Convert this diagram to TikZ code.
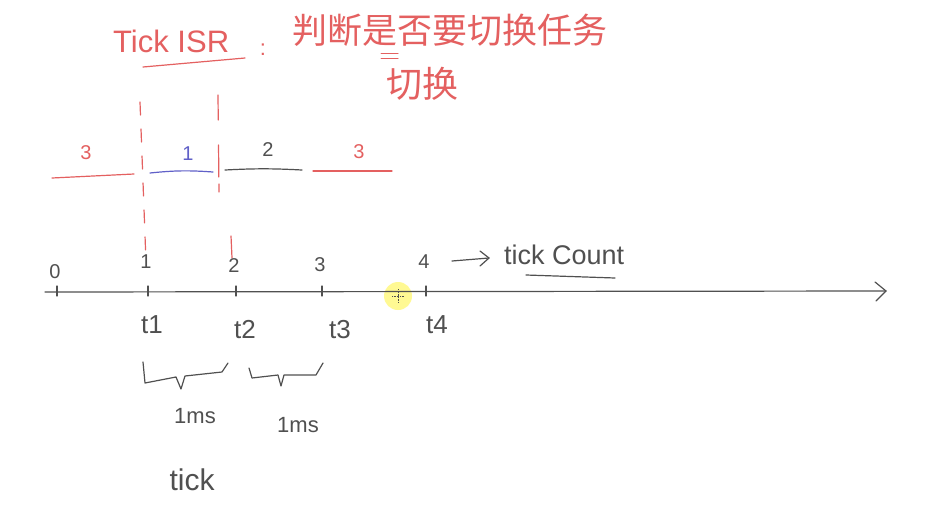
\documentclass[tikz,border=0pt]{standalone}
\usepackage{fontspec}
\setmainfont{Liberation Sans}
\newfontfamily\cjk{Noto Sans CJK SC}
\usetikzlibrary{arrows.meta}
\definecolor{hred}{RGB}{228,96,96}
\definecolor{hblue}{RGB}{96,96,200}
\definecolor{hgray}{RGB}{80,80,80}
\tikzset{
  pen/.style={line width=1.2pt, line cap=round, line join=round},
  redpen/.style={pen, draw=hred},
  graypen/.style={pen, draw=hgray},
  lbl/.style={inner sep=0pt, font=\fontsize{20}{22}\selectfont},
  redtxt/.style={text=hred},
  graytxt/.style={text=hgray},
}
\begin{document}
\begin{tikzpicture}[x=1pt,y=-1pt]
\useasboundingbox[fill=white] (0,0) rectangle (941,506);

% title
\node[lbl, redtxt, anchor=west, font=\fontsize{31}{33}\selectfont] (tisr) at (113,41) {Tick ISR};
\draw[redpen] (143,67) -- (245,58);
\node[lbl, redtxt, font=\fontsize{22}{24}\selectfont] (colon) at (263,50) {:};
\node[lbl, redtxt, anchor=west, font=\cjk\fontsize{35}{38}\selectfont] (judge) at (292,30) {判断是否要切换任务};
\draw[redpen, line width=1pt] (381,53) -- (398,53) (381,58) -- (398,58);
\node[lbl, redtxt, anchor=west, font=\cjk\fontsize{36}{38}\selectfont] (swap) at (386,84) {切换};

% dashed / red switch lines
\coordinate (d1t) at (140,102);
\coordinate (d1b) at (146,262);
\draw[redpen, dash pattern=on 13pt off 14pt] (d1t) -- (d1b);
\coordinate (d2t) at (218,95);
\coordinate (d2b) at (219,192);
\draw[redpen, dash pattern=on 25pt off 25pt on 32pt off 7pt on 10pt off 10pt] (d2t) -- (d2b);
\coordinate (d3t) at (231,236);
\coordinate (d3b) at (232,258);
\draw[redpen] (d3t) -- (d3b);

% task segments
\coordinate (s1a) at (52,178); \coordinate (s1b) at (134,174);
\coordinate (s2a) at (150,173); \coordinate (s2b) at (213,172);
\coordinate (s3a) at (225,170); \coordinate (s3b) at (302,170);
\coordinate (s4a) at (313,171); \coordinate (s4b) at (392,171);
\draw[redpen] (s1a) -- (s1b);
\draw[pen, draw=hblue] (s2a) to[bend left=5] (s2b);
\draw[graypen] (s3a) to[bend left=3] (s3b);
\draw[redpen] (s4a) -- (s4b);
\node[lbl, redtxt] (l3a) at (86,153) {3};
\node[lbl, text=hblue] (l1) at (188,154) {1};
\node[lbl, graytxt] (l2) at (268,150) {2};
\node[lbl, redtxt] (l3b) at (359,152) {3};

% cursor highlight
\fill[yellow!60, opacity=0.7] (398,296) circle (14);
\draw[hgray, line width=0.6pt, densely dotted] (398,289) -- (398,303) (392,296) -- (404,296);

% axis
\coordinate (ax0) at (45,292);
\coordinate (ax1) at (886,291);
\draw[graypen] (ax0) -- (ax1);
\draw[graypen] (875,282) -- (ax1) -- (876,301);

% ticks
\foreach \n/\x/\ly in {0/57/272, 1/148/262, 2/236/266, 3/322/265, 4/426/262}{
  \coordinate (tk\n) at (\x,291);
  \draw[graypen] (\x,286) -- (tk\n) -- (\x,296);
  \node[lbl, graytxt] (n\n) at (\x-2,\ly) {\n};
}
\node[lbl, graytxt, font=\fontsize{26}{28}\selectfont] (t1) at (152,325) {t1};
\node[lbl, graytxt, font=\fontsize{26}{28}\selectfont] (t2) at (245,330) {t2};
\node[lbl, graytxt, font=\fontsize{26}{28}\selectfont] (t3) at (340,330) {t3};
\node[lbl, graytxt, font=\fontsize{26}{28}\selectfont] (t4) at (437,325) {t4};

% tick count
\coordinate (ca) at (452,261);
\coordinate (cb) at (489,258);
\draw[graypen] (ca) -- (cb);
\draw[graypen] (480,251) -- (cb) -- (480,266);
\node[lbl, graytxt, anchor=west, font=\fontsize{27}{29}\selectfont] (tc) at (504,255) {tick Count};
\draw[graypen] (526,275) -- (615,278);

% braces
\draw[graypen] (143,362) -- (145,383) -- (176,377) -- (181,389) -- (185,376) -- (222,372) -- (228,363);
\draw[graypen] (249,368) -- (252,378) -- (278,375) -- (281,386) -- (284,375) -- (316,375) -- (323,363);
\node[lbl, graytxt, font=\fontsize{22}{24}\selectfont] (ms1) at (195,416) {1ms};
\node[lbl, graytxt, font=\fontsize{22}{24}\selectfont] (ms2) at (298,425) {1ms};
\node[lbl, graytxt, font=\fontsize{30}{32}\selectfont] (tick) at (192,480) {tick};
\end{tikzpicture}
\end{document}
